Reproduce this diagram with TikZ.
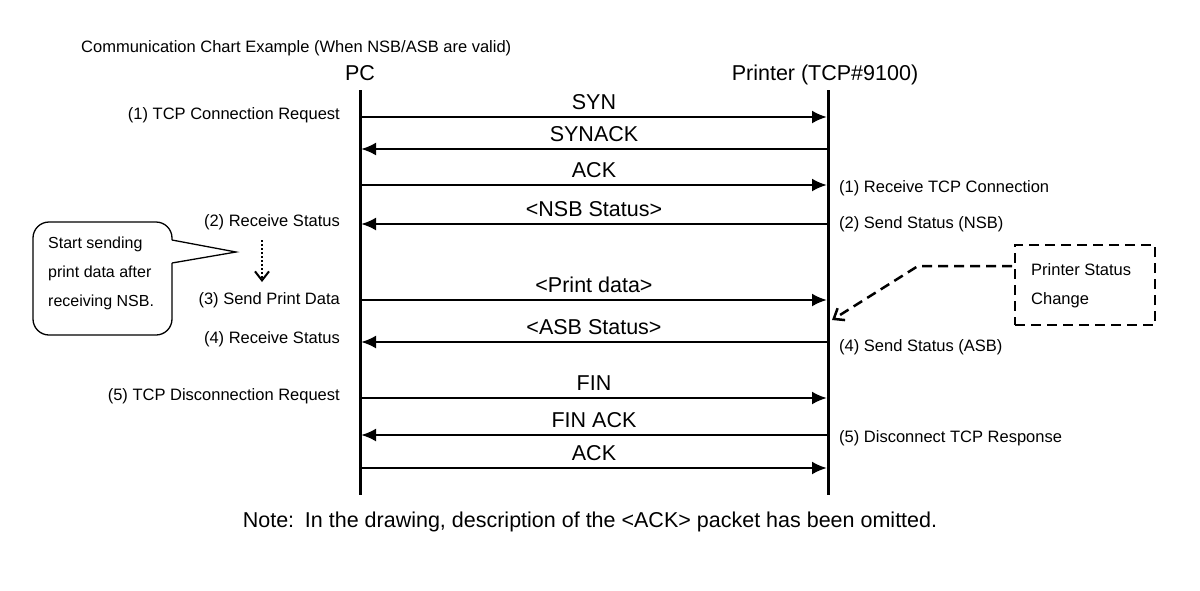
\documentclass[tikz,border=0pt]{standalone}
\usepackage{fontspec}
\setmainfont{Liberation Sans}
\usetikzlibrary{arrows.meta}
\tikzset{
  msg/.style={line width=2.5pt,-{Latex[length=15pt,width=13pt]}},
  lbl/.style={font=\fontsize{16.5}{19}\selectfont,inner sep=1pt},
  big/.style={font=\fontsize{21.5}{24}\selectfont,inner sep=1pt},
}
\begin{document}
\begin{tikzpicture}[x=1pt,y=-1pt]
		\useasboundingbox (0,0) rectangle (1200,590);
		\node[lbl,anchor=west] (title) at (80,48) {Communication Chart Example (When NSB/ASB are valid)};
		
		\node[big] (pc) at (360,73) {PC};
		\node[big] (prn) at (825,75) {Printer (TCP\#9100)};
		\coordinate (pctop) at (360,90);
		\coordinate (pcbot) at (360,495);
		\coordinate (prtop) at (828,90);
		\coordinate (prbot) at (828,495);
		\draw[line width=3pt] (pctop)--(pcbot);
		\draw[line width=3pt] (prtop)--(prbot);
		
		\foreach \y/\dir/\txt in {117/r/SYN, 149/l/SYNACK, 185/r/ACK, 224/l/{<NSB Status>},
			300/r/{<Print data>}, 342/l/{<ASB Status>}, 398/r/FIN, 435/l/{FIN ACK}, 468/r/ACK}{
			\coordinate (a\y) at (361,\y);
			\coordinate (b\y) at (827,\y);
			\if r\dir
				\draw[msg] (a\y)--(b\y);
			\else
				\draw[msg] (b\y)--(a\y);
			\fi
			\node[big] (m\y) at (594,\y-15) {\txt};
		}
		
		\node[lbl,anchor=east] (l1) at (341,115) {(1) TCP Connection Request};
		\node[lbl,anchor=east] (l2) at (341,222) {(2) Receive Status};
		\node[lbl,anchor=east] (l3) at (341,300) {(3) Send Print Data};
		\node[lbl,anchor=east] (l4) at (341,339) {(4) Receive Status};
		\node[lbl,anchor=east] (l5) at (341,396) {(5) TCP Disconnection Request};
		
		\node[lbl,anchor=west] (r1) at (838,188) {(1) Receive TCP Connection};
		\node[lbl,anchor=west] (r2) at (838,224) {(2) Send Status (NSB)};
		\node[lbl,anchor=west] (r4) at (838,347) {(4) Send Status (ASB)};
		\node[lbl,anchor=west] (r5) at (838,438) {(5) Disconnect TCP Response};
		
		% callout
		\draw[line width=1.3pt,rounded corners=16pt] (172,263)--(172,335)--(33,335)--(33,222)--(172,222)--(172,240);
		\draw[line width=1.3pt] (172,240)--(236,252)--(172,263);
		\node[lbl,anchor=north west,align=left,font=\fontsize{16}{29}\selectfont] (note1) at (47,236) {Start sending\\print data after\\receiving NSB.};
		\coordinate (d1) at (262,240);
		\coordinate (d2) at (262,282);
		\draw[line width=2pt,dotted,-{Straight Barb[length=9pt,width=14pt,line width=2pt]}] (d1)--(d2);
		
		% status change
		\node[draw,line width=2.5pt,dash pattern=on 10pt off 6pt,minimum width=140pt,minimum height=80pt] (chg) at (1085,285) {};
		\node[lbl,anchor=west,align=left,font=\fontsize{16.5}{29}\selectfont] (chgt) at (1030,286) {Printer Status\\Change};
		\coordinate (k1) at (1012,266);
		\coordinate (k2) at (918,266);
		\coordinate (k3) at (832,320);
		\draw[line width=2.5pt,dash pattern=on 10pt off 6pt,-{Straight Barb[length=9pt,width=14pt]}] (k1)--(k2)--(k3);
		
		\node[big] (foot) at (590,522) {Note:\enspace In the drawing, description of the <ACK> packet has been omitted.};
\end{tikzpicture}
\end{document}
